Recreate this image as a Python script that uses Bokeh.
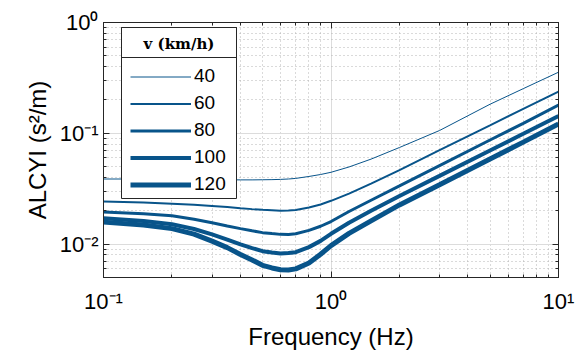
import math
from bokeh.plotting import figure
from bokeh.models import (LogAxis, FixedTicker, CustomJSTickFormatter, Legend,
                          LegendItem, BoxAnnotation, Range1d, Label)
from bokeh.embed import file_html
from bokeh.resources import INLINE

# ---- data ----
freq = [0.1, 0.15, 0.2, 0.25, 0.3, 0.35, 0.4, 0.45, 0.5, 0.55, 0.6, 0.65, 0.7,
        0.8, 0.9, 1.0, 1.2, 1.5, 2.0, 3.0, 5.0, 7.0, 10.0]
alcyi_40 = [0.0387, 0.0387, 0.0386, 0.0385, 0.0383, 0.0381, 0.0380, 0.0380, 0.0381,
            0.0382, 0.0384, 0.0387, 0.0392, 0.0408, 0.0425, 0.0445, 0.0497, 0.0585,
            0.0745, 0.106, 0.183, 0.253, 0.356]
alcyi_60 = [0.0243, 0.0238, 0.0232, 0.0227, 0.0221, 0.0216, 0.0211, 0.0207, 0.0204,
            0.0202, 0.0200, 0.0201, 0.0203, 0.0214, 0.0228, 0.0246, 0.0286, 0.0352,
            0.0465, 0.0705, 0.118, 0.166, 0.238]
alcyi_80 = [0.0195, 0.0188, 0.0180, 0.0168, 0.0156, 0.0146, 0.0138, 0.0132, 0.0127,
            0.01245, 0.01225, 0.0122, 0.0124, 0.0133, 0.0145, 0.0160, 0.0197, 0.0249,
            0.0335, 0.0511, 0.087, 0.123, 0.180]
alcyi_100 = [0.0171, 0.0162, 0.0151, 0.0137, 0.01225, 0.0110, 0.00994, 0.0092, 0.00864,
             0.0084, 0.00823, 0.0083, 0.00846, 0.0094, 0.0107, 0.0124, 0.0156, 0.0200,
             0.0272, 0.0413, 0.0701, 0.099, 0.143]
alcyi_120 = [0.0158, 0.0149, 0.0138, 0.0123, 0.01064, 0.0093, 0.00806, 0.0072, 0.00644,
             0.0061, 0.00588, 0.00585, 0.00598, 0.00676, 0.0081, 0.0097, 0.0125, 0.0162,
             0.0226, 0.0344, 0.0587, 0.0833, 0.1215]
speeds = ["40", "60", "80", "100", "120"]
series = [alcyi_40, alcyi_60, alcyi_80, alcyi_100, alcyi_120]
legend_title = "v (km/h)"
x_major = [0.1, 1.0, 10.0]
y_major = [0.01, 0.1, 1.0]

# ---- styling ----
LINE_COLOR = "#08548A"
widths = [1, 2, 3, 4, 5]
FONT = "Liberation Sans"
AX = "#262626"

X0, X1 = 0.1, 10.0
Y0, Y1 = 0.005, 1.0
W, H = 583, 355
BL, BR, BT, BB = 103, 25, 22, 78

p = figure(width=W, height=H, x_axis_type="log", y_axis_type="log",
           x_range=Range1d(X0, X1), y_range=Range1d(Y0, Y1),
           output_backend="svg", toolbar_location=None,
           min_border_left=BL, min_border_right=BR, min_border_top=BT,
           min_border_bottom=BB)
p.background_fill_color = "white"
p.border_fill_color = "white"
p.outline_line_color = AX
p.outline_line_width = 1

def minors(lo_exp, hi_exp):
    return [m * 10.0 ** e for e in range(lo_exp, hi_exp) for m in range(2, 10)]

xticker = FixedTicker(ticks=x_major, minor_ticks=minors(-1, 1))
yticker = FixedTicker(ticks=y_major, minor_ticks=minors(-3, 0))

fmt = CustomJSTickFormatter(code="""
const sup = {"-":"\u207b","0":"\u2070","1":"\u00b9","2":"\u00b2","3":"\u00b3",
             "4":"\u2074","5":"\u2075","6":"\u2076","7":"\u2077","8":"\u2078","9":"\u2079"};
const e = Math.round(Math.log10(tick));
return "10" + String(e).split("").map(c => sup[c]).join("");
""")
blank = CustomJSTickFormatter(code="return ' ';")

def style_axis(ax, ticker, labels=True):
    ax.ticker = ticker
    ax.axis_line_color = AX
    ax.major_tick_line_color = AX
    ax.minor_tick_line_color = AX
    ax.major_tick_in = 6
    ax.major_tick_out = 0
    ax.minor_tick_in = 3
    ax.minor_tick_out = 0
    if labels:
        ax.formatter = fmt
        ax.major_label_text_font = FONT
        ax.major_label_text_font_size = "22px"
        ax.major_label_text_color = "black"
        ax.axis_label_text_font = FONT
        ax.axis_label_text_font_size = "24px"
        ax.axis_label_text_font_style = "normal"
        ax.axis_label_text_color = "black"
    else:
        ax.formatter = blank
        ax.major_label_text_font_size = "2px"
        ax.major_label_standoff = 0
        ax.major_label_text_alpha = 0

style_axis(p.xaxis[0], xticker)
style_axis(p.yaxis[0], yticker)
p.xaxis[0].axis_label = "Frequency (Hz)"
p.yaxis[0].axis_label = "ALCYI (s\u00b2/m)"
p.xaxis[0].major_label_standoff = 11
p.xaxis[0].axis_label_standoff = 6
p.yaxis[0].major_label_standoff = 5
p.yaxis[0].axis_label_standoff = 6

top_ax = LogAxis()
right_ax = LogAxis()
style_axis(top_ax, xticker, labels=False)
style_axis(right_ax, yticker, labels=False)
p.add_layout(top_ax, "above")
p.add_layout(right_ax, "right")

for g, tk in ((p.xgrid[0], xticker), (p.ygrid[0], yticker)):
    g.ticker = tk
    g.grid_line_color = "#dcdcdc"
    g.grid_line_width = 1
    g.minor_grid_line_color = "#b4b4b4"
    g.minor_grid_line_dash = "1 3"
    g.minor_grid_line_width = 1

items = []
for name, ys, lw in zip(speeds, series, widths):
    r = p.line(freq, ys, line_color=LINE_COLOR, line_width=lw)
    items.append(LegendItem(label=name, renderers=[r]))

# legend frame geometry (screen px)
LG_LEFT, LG_RIGHT, LG_TOP, LG_SEP, LG_BOTTOM = 121, 236, 27, 57, 198
frame_w = W - BL - BR
frame_h = H - BT - BB

def px_to_x(px):
    return 10 ** (math.log10(X0) + (px - BL) / frame_w * (math.log10(X1) - math.log10(X0)))

def py_to_y(py):
    return 10 ** (math.log10(Y1) - (py - BT) / frame_h * (math.log10(Y1) - math.log10(Y0)))

legend_box = BoxAnnotation(left=px_to_x(LG_LEFT), right=px_to_x(LG_RIGHT),
                           top=py_to_y(LG_TOP), bottom=py_to_y(LG_BOTTOM),
                           fill_color="white", fill_alpha=1.0,
                           line_color=AX, line_width=1, line_alpha=1.0)
title_box = BoxAnnotation(left=px_to_x(LG_LEFT), right=px_to_x(LG_RIGHT),
                          top=py_to_y(LG_TOP), bottom=py_to_y(LG_SEP),
                          fill_alpha=0, line_color=AX, line_width=1, line_alpha=1.0)
p.add_layout(legend_box)
p.add_layout(title_box)

title_lbl = Label(x=px_to_x((LG_LEFT + LG_RIGHT) / 2), y=py_to_y((LG_TOP + LG_SEP) / 2 + 1),
                  text=legend_title, text_font="DejaVu Serif", text_font_style="bold",
                  text_font_size="15px", text_color="black", text_align="center",
                  text_baseline="middle")
title_lbl.level = "overlay"
p.add_layout(title_lbl)

legend = Legend(items=items, location=(21, 76),
                label_text_font=FONT, label_text_font_size="19px",
                label_text_color="black",
                glyph_width=61, glyph_height=21, label_height=21, label_standoff=3,
                spacing=5, padding=6, margin=0,
                border_line_alpha=0, background_fill_alpha=0)
legend.level = "overlay"
p.add_layout(legend, "center")

open("out.html", "w").write(file_html(p, INLINE))
